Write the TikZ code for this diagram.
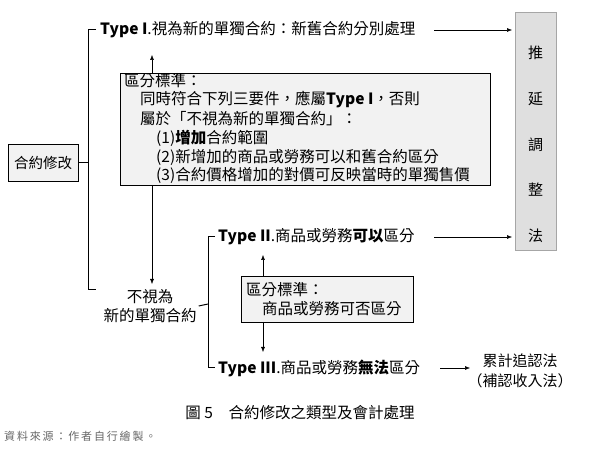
\documentclass[tikz,border=0pt]{standalone}
\usepackage{fontspec}
\setmainfont{Noto Sans CJK TC}
\usetikzlibrary{arrows.meta}
\begin{document}
\begin{tikzpicture}[x=1pt,y=-1pt,
  txt/.style={inner sep=0pt,anchor=west,font=\fontsize{15.5}{17}\selectfont},
  ln/.style={line width=1pt,black},
  arr/.style={line width=0.5pt,-{Latex[length=5pt,width=4pt]}},
  gbox/.style={draw,line width=1pt,fill=gray!10,inner sep=0pt},
  ty/.style={font=\bfseries}]
\useasboundingbox (0,0) rectangle (600,454);
\fill[white] (0,0) rectangle (600,454);
% main box
\node[gbox,minimum width=70,minimum height=37,font=\fontsize{14.5}{16}\selectfont] (main) at (43,163) {合約修改};
% right tall box
\node[draw=gray!70,fill=gray!25,line width=0.7pt,minimum width=41,minimum height=238,inner sep=0] (defer) at (535.5,131) {};
\foreach \c/\yy in {推/53,延/99,調/145,整/190,法/236}
  \node[font=\fontsize{15}{17}\selectfont,inner sep=0] at (535.5,\yy) {\c};
% bracket 1
\coordinate (b1t) at (88,30); \coordinate (b1b) at (88,290);
\draw[ln] (main.east) -- (88,163);
\draw[ln] (96,30) -- (b1t) -- (b1b) -- (96,290);
\node[txt] (t1) at (100,30) {\textbf{Type I}.視為新的單獨合約：新舊合約分別處理};
\coordinate (d1) at (512,30);
\draw[arr] (434,30) -- (d1);
% criteria box 1
\node[gbox,minimum width=370,minimum height=112,anchor=north west] (c1) at (120,73) {};
\node[txt] at (124,81) {區分標準：};
\node[txt] at (140,100) {同時符合下列三要件，應屬\textbf{Type I}，否則};
\node[txt] at (140,119) {屬於「不視為新的單獨合約」：};
\node[txt] at (156,138) {(1)\textbf{增加}合約範圍};
\node[txt] at (156,157) {(2)新增加的商品或勞務可以和舊合約區分};
\node[txt] at (156,175) {(3)合約價格增加的對價可反映當時的單獨售價};
\coordinate (u1) at (152,55);
\draw[arr] (152,73) -- (u1);
% not-new
\node[txt,anchor=center,align=center,font=\fontsize{15.5}{19}\selectfont] (nn) at (150,306) {不視為\\新的單獨合約};
\draw[arr] (152,185) -- (152,284);
% bracket 2
\draw[ln] (nn.east) ++(2,0) -- (208,304);
\draw[ln] (215,237) -- (208,237) -- (208,368) -- (215,368);
\node[txt] (t2) at (218,237) {\textbf{Type II}.商品或勞務\textbf{可以}區分};
\draw[arr] (434,237) -- (512,237);
\node[txt] (t3) at (218,368) {\textbf{Type III}.商品或勞務\textbf{無法}區分};
\node[txt,anchor=center,align=center,font=\fontsize{15}{20}\selectfont] (cum) at (520,371) {累計追認法\\（補認收入法）};
\draw[arr] (440,368) -- (470,368);
% box 2
\node[gbox,minimum width=172,minimum height=46,anchor=north west] (c2) at (241,276) {};
\node[txt] at (246,290) {區分標準：};
\node[txt] at (262,309) {商品或勞務可否區分};
\draw[arr] (263,276) -- (263,255);
\draw[arr] (263,322) -- (263,352);
% caption
\node[font=\fontsize{15.5}{17}\selectfont,inner sep=0] (cap) at (300,413) {圖 5\quad 合約修改之類型及會計處理};
\node[anchor=west,inner sep=0,font=\fontsize{11}{13}\selectfont,text=gray!80!black] (src) at (4,436) {資\,料\,來\,源\,：\,作\,者\,自\,行\,繪\,製\,。};
\end{tikzpicture}
\end{document}
